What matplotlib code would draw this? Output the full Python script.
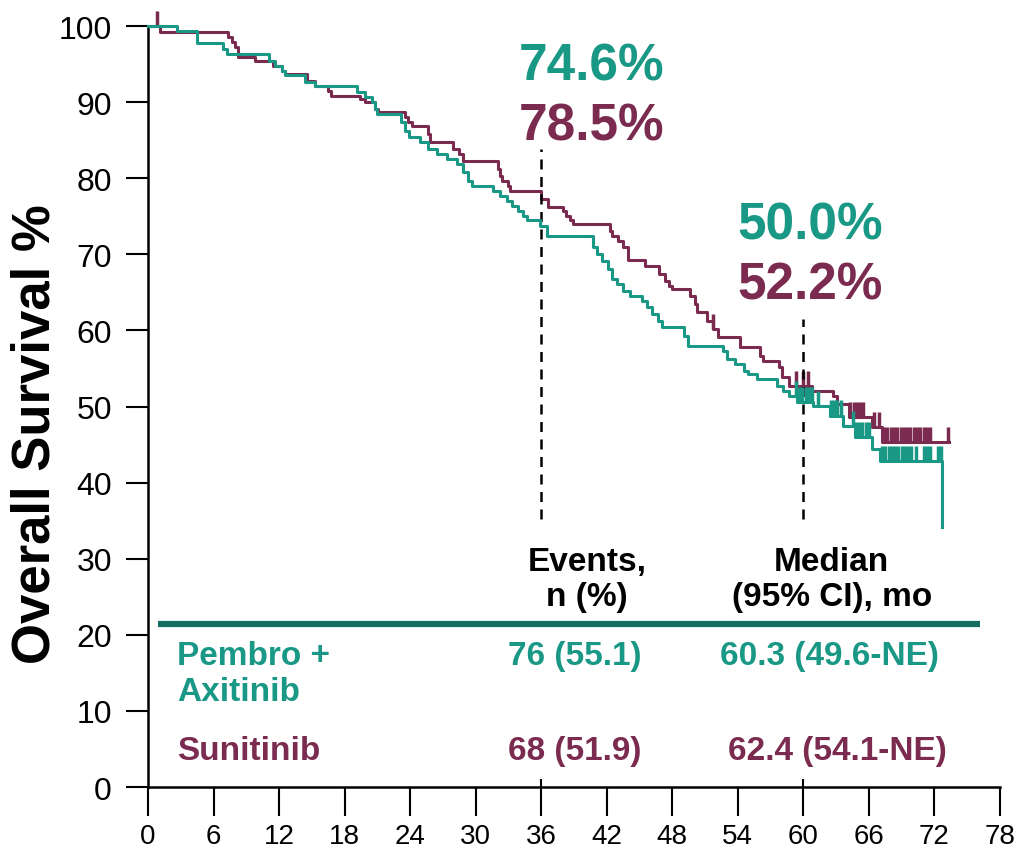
import numpy as np
import matplotlib
matplotlib.use('Agg')
import matplotlib.pyplot as plt

# Couleurs
teal = '#1a9886'
maroon = '#7a2b4f'
rule_col = '#156e60'

# Kaplan-Meier : (mois, survie %) apres chaque evenement
pa_t = [0, 2.7, 4.5, 6.9, 7.2, 11.1, 11.6, 12.3, 12.5, 14.4, 15.3, 19.1, 19.9, 20.5, 20.8, 21.0,
        23.2, 23.5, 23.9, 24.9, 25.6, 26.5, 27.4, 28.3, 28.8, 29.3, 29.7, 31.6, 32.2, 32.9, 33.3,
        33.9, 34.3, 34.7, 35.9, 36.5, 40.7, 41.1, 41.6, 42.1, 42.5, 42.9, 43.5, 44.1, 45.2, 45.7,
        46.1, 46.7, 47.1, 49.1, 49.4, 52.6, 53.0, 53.7, 54.6, 54.9, 55.8, 57.6, 58.1, 58.7, 59.4,
        60.9, 62.4, 63.6, 64.7, 66.3, 67.0, 72.7]
pa_s = [100, 99.3, 97.8, 97.0, 96.3, 95.4, 94.7, 94.1, 93.6, 92.7, 92.1, 91.3, 90.7, 90.0, 89.1, 88.4,
        87.4, 86.2, 85.4, 84.8, 83.8, 83.2, 82.5, 81.9, 80.8, 79.6, 79.0, 78.3, 77.7, 77.0, 76.3,
        75.7, 75.0, 74.5, 73.7, 72.4, 71.0, 70.0, 69.1, 68.1, 66.8, 66.1, 65.2, 64.5, 63.9, 63.1,
        62.2, 61.2, 60.4, 59.3, 58.0, 57.3, 56.2, 55.6, 54.7, 54.3, 53.6, 52.7, 52.0, 51.4, 50.6,
        50.1, 48.8, 47.4, 46.0, 44.4, 42.8, 34.2]

su_t = [0, 1.1, 7.3, 7.7, 8.0, 8.2, 9.8, 11.4, 12.3, 12.5, 14.6, 15.3, 16.5, 16.8, 19.4, 19.9, 20.8,
        21.1, 23.5, 23.8, 24.2, 25.6, 25.8, 27.9, 28.5, 28.8, 32.0, 32.2, 32.4, 33.0, 33.1, 36.0,
        36.6, 38.0, 38.3, 38.6, 38.9, 42.3, 42.5, 43.0, 43.5, 43.9, 45.5, 46.8, 47.3, 47.7, 48.0,
        49.6, 50.1, 50.3, 51.2, 51.7, 52.2, 54.2, 56.0, 56.3, 57.8, 58.0, 58.7, 60.8, 62.7, 63.1,
        64.2, 66.3, 67.2, 73.3]
su_s = [100, 99.2, 98.5, 97.9, 97.2, 96.0, 95.4, 94.7, 94.1, 93.7, 92.8, 92.1, 91.5, 90.8, 90.4, 90.0,
        89.1, 88.7, 88.0, 87.4, 86.9, 85.8, 84.8, 83.8, 83.2, 82.3, 81.2, 80.3, 79.6, 79.0, 78.3,
        77.3, 76.2, 75.7, 75.0, 74.5, 74.0, 73.1, 72.4, 71.8, 71.0, 69.3, 68.5, 67.4, 66.5, 65.8,
        65.4, 64.5, 63.5, 62.4, 61.2, 60.2, 59.1, 57.8, 56.6, 56.0, 55.2, 53.9, 52.7, 52.0, 51.4,
        50.3, 48.6, 47.3, 45.3, 45.3]

# Censures (mois)
pa_cens = [59.3, 59.6, 59.9, 60.2, 60.5, 60.8, 61.3, 62.5, 62.8, 63.1, 63.4, 64.5, 64.8, 65.1,
           65.4, 65.7, 66.0, 67.2, 67.5, 67.8, 68.1, 68.4, 68.7, 69.0, 69.3, 69.6, 69.85,
           70.35, 71.0, 71.3, 71.6, 72.35, 72.6]
su_cens = [0.8, 51.7, 59.3, 60.0, 60.4, 64.3, 64.6, 64.9, 65.2, 65.5, 66.5, 66.9,
           67.4, 67.7, 68.0, 68.3, 68.6, 68.9, 69.2, 69.5, 69.8, 70.1, 70.4, 70.7,
           71.0, 71.3, 71.6, 73.2]

x_ticks = list(range(0, 79, 6))
y_ticks = list(range(0, 101, 10))

landmarks = [36, 60]
pa_land = ['74.6%', '50.0%']
su_land = ['78.5%', '52.2%']

rows = ['Pembro +\nAxitinib', 'Sunitinib']
events = ['76 (55.1)', '68 (51.9)']
medians = ['60.3 (49.6-NE)', '62.4 (54.1-NE)']

plt.rcParams['font.family'] = ['Liberation Sans', 'DejaVu Sans']


def surv_at(t_list, s_list, t):
    i = np.searchsorted(np.array(t_list), t, side='right') - 1
    return s_list[i]


fig = plt.figure(figsize=(10.15, 8.62), dpi=100)
ax = fig.add_axes([0.1458, 0.0858, 0.8394, 0.8828])

ax.step(pa_t, pa_s, where='post', color=teal, lw=2.2, clip_on=False, zorder=3)
ax.step(su_t, su_s, where='post', color=maroon, lw=2.2, clip_on=False, zorder=2)

pc = [surv_at(pa_t, pa_s, t) for t in pa_cens]
sc = [surv_at(su_t, su_s, t) for t in su_cens]
ax.vlines(pa_cens, pc, np.array(pc) + 2, color=teal, lw=2.5, clip_on=False, zorder=3)
ax.vlines(su_cens, sc, np.array(sc) + 2, color=maroon, lw=2.5, clip_on=False, zorder=2)

# Lignes pointillees et pourcentages
ax.vlines(landmarks[0], 35.2, 83.8, color='black', ls=(0, (4, 3)), lw=1.8)
ax.vlines(landmarks[1], 35.2, 61.5, color='black', ls=(0, (4, 3)), lw=1.8)
ax.vlines(landmarks, 0, 1.1, color='black', lw=1.5)
ax.text(40.6, 94.8, pa_land[0], color=teal, fontsize=37, fontweight='bold', ha='center', va='center')
ax.text(40.6, 86.9, su_land[0], color=maroon, fontsize=37, fontweight='bold', ha='center', va='center')
ax.text(60.6, 73.9, pa_land[1], color=teal, fontsize=37, fontweight='bold', ha='center', va='center')
ax.text(60.6, 66.0, su_land[1], color=maroon, fontsize=37, fontweight='bold', ha='center', va='center')

# Tableau
ax.text(40.2, 27.3, 'Events,\nn (%)', fontsize=24, fontweight='bold',
        ha='center', va='center', linespacing=1.15)
ax.text(62.6, 27.3, 'Median\n(95% CI), mo', fontsize=24, fontweight='bold',
        ha='center', va='center', linespacing=1.15)
ax.plot([0.9, 76.2], [21.4, 21.4], color=rule_col, lw=4.5, solid_capstyle='butt')
ax.text(2.7, 14.9, rows[0], color=teal, fontsize=24, fontweight='bold',
        ha='left', va='center', linespacing=1.2)
ax.text(2.7, 4.8, rows[1], color=maroon, fontsize=24, fontweight='bold',
        ha='left', va='center')
ax.text(39.1, 17.3, events[0], color=teal, fontsize=24, fontweight='bold',
        ha='center', va='center')
ax.text(39.1, 4.8, events[1], color=maroon, fontsize=24, fontweight='bold',
        ha='center', va='center')
ax.text(62.4, 17.3, medians[0], color=teal, fontsize=24, fontweight='bold',
        ha='center', va='center')
ax.text(63.1, 4.8, medians[1], color=maroon, fontsize=24, fontweight='bold',
        ha='center', va='center')

ax.set_xlim(0, 78)
ax.set_ylim(0, 100)
ax.set_xticks(x_ticks)
ax.set_yticks(y_ticks)
ax.set_xticklabels([str(v) for v in x_ticks], fontsize=20)
ax.set_yticklabels([str(v) for v in y_ticks], fontsize=23)
ax.tick_params(axis='x', direction='out', length=21, width=1.5, pad=5)
ax.tick_params(axis='y', direction='out', length=16, width=1.5, pad=10)
ax.spines['top'].set_visible(False)
ax.spines['right'].set_visible(False)
ax.spines['left'].set_linewidth(1.8)
ax.spines['bottom'].set_linewidth(1.8)
ax.set_ylabel('Overall Survival %', fontsize=38, fontweight='bold')
ax.yaxis.set_label_coords(-0.103, 0.465)

fig.savefig('out.png', dpi=100)
